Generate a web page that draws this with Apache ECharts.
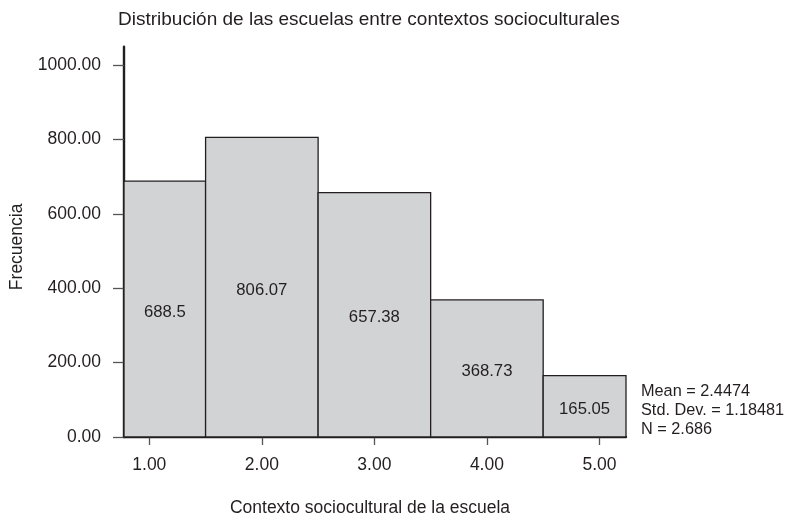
<!DOCTYPE html>
<html>
<head>
<meta charset="utf-8">
<script src="https://cdn.jsdelivr.net/npm/echarts@6/dist/echarts.min.js"></script>
<style>html,body{margin:0;padding:0;background:#fff}#c{width:788px;height:522px}</style>
</head>
<body>
<div id="c"></div>
<script>
var categories = [1, 2, 3, 4, 5];
var frequencies = [688.5, 806.07, 657.38, 368.73, 165.05];
var yTicks = [0, 200, 400, 600, 800, 1000];
var xTicks = [1, 2, 3, 4, 5];
var titleText = 'Distribución de las escuelas entre contextos socioculturales';
var xName = 'Contexto sociocultural de la escuela';
var yName = 'Frecuencia';
var statsLines = ['Mean = 2.4474', 'Std. Dev. = 1.18481', 'N = 2.686'];

var FONT = '"Liberation Sans", Arial, Helvetica, sans-serif';
var TXT = '#231f20';
var chart = echarts.init(document.getElementById('c'), null, {renderer: 'canvas'});

var data = categories.map(function (c, i) { return [c, frequencies[i]]; });

chart.setOption({
  animation: false,
  backgroundColor: '#fff',
  title: {
    text: titleText,
    left: 113, top: 5,
    textStyle: {fontFamily: FONT, fontSize: 19, fontWeight: 'normal', color: TXT}
  },
  grid: {left: 122.3, right: 162, top: 46.7, bottom: 83.7, containLabel: false},
  xAxis: {
    type: 'value', min: 0.775, max: 5.236,
    name: xName, nameLocation: 'middle', nameGap: 62,
    nameTextStyle: {fontFamily: FONT, fontSize: 17.5, color: TXT, padding: [0, 10, 0, 0]},
    axisLine: {show: true, onZero: false, lineStyle: {color: '#231f20', width: 2.4}},
    axisTick: {show: true, length: 8, customValues: xTicks, lineStyle: {color: '#555', width: 1.3}},
    axisLabel: {customValues: xTicks, margin: 19, fontFamily: FONT, fontSize: 17.5, color: TXT,
      formatter: function (v) { return v.toFixed(2); }},
    splitLine: {show: false}
  },
  yAxis: {
    type: 'value', min: 0, max: 1050,
    name: yName, nameLocation: 'middle', nameGap: 98, nameRotate: 90,
    nameTextStyle: {fontFamily: FONT, fontSize: 17.5, color: TXT, padding: [0, 0, 0, -10]},
    axisLine: {show: true, lineStyle: {color: '#231f20', width: 2.4}},
    axisTick: {show: true, length: 11, customValues: yTicks, lineStyle: {color: '#555', width: 1.3}},
    axisLabel: {customValues: yTicks, margin: 23, fontFamily: FONT, fontSize: 17.5, color: TXT,
      formatter: function (v) { return v.toFixed(2); }},
    splitLine: {show: false}
  },
  graphic: [{
    type: 'text', left: 641, top: 382,
    style: {text: statsLines.join('\n'), font: '16.3px ' + FONT, fill: TXT, lineHeight: 19}
  }],
  series: [{
    type: 'custom',
    data: data,
    renderItem: function (params, api) {
      var x = api.value(0), v = api.value(1);
      var p0 = api.coord([x - 0.5, 0]);
      var p1 = api.coord([x + 0.5, v]);
      var rect = {x: p0[0], y: p1[1], width: p1[0] - p0[0], height: p0[1] - p1[1]};
      var cs = params.coordSys;
      var clipped = echarts.graphic.clipRectByRect(rect, {x: cs.x, y: cs.y, width: cs.width, height: cs.height});
      if (!clipped) return null;
      return {
        type: 'rect',
        shape: clipped,
        style: {fill: '#d2d3d5', stroke: '#231f20', lineWidth: 1.3},
        textContent: {style: {text: String(v), font: '16.7px ' + FONT, fill: TXT}},
        textConfig: {position: 'inside', offset: [0, 3]}
      };
    }
  }]
});
</script>
</body>
</html>
